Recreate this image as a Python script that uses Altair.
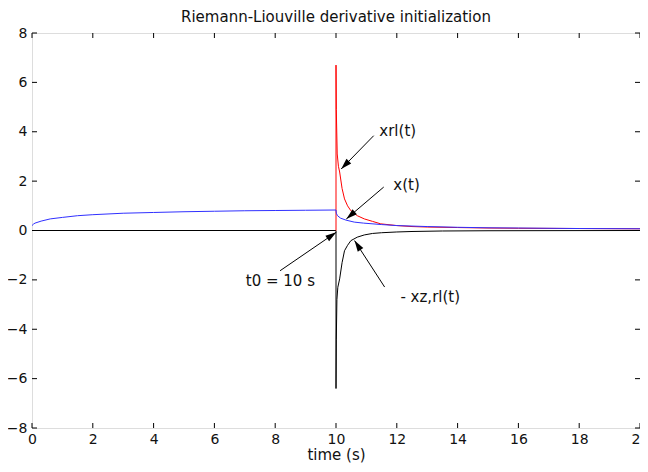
import math
import altair as alt
import pandas as pd

# ---------------- data ----------------
x_t = [0, 0.05, 0.1, 0.3, 0.6, 1, 1.5, 2, 3, 4, 5, 6, 7, 8, 9, 10,
       10.01, 10.05, 10.15, 10.33, 10.6, 10.9, 11.5, 12, 13, 14, 15, 16, 18, 20]
x_v = [0.2, 0.26, 0.3, 0.38, 0.47, 0.53, 0.6, 0.64, 0.7, 0.73, 0.76, 0.78, 0.8, 0.81, 0.82, 0.83,
       0.7, 0.6, 0.5, 0.42, 0.34, 0.3, 0.24, 0.2, 0.16, 0.13, 0.11, 0.1, 0.08, 0.07]

xrl_t = [10, 10, 10.01, 10.04, 10.08, 10.12, 10.2, 10.28, 10.38, 10.49, 10.7, 10.93,
         11.2, 11.47, 12, 12.5, 13, 14, 15, 16, 18, 20]
xrl_v = [0, 6.7, 4.9, 3.1, 2.6, 2.37, 1.7, 1.28, 1.0, 0.8, 0.6, 0.47,
         0.37, 0.27, 0.2, 0.16, 0.14, 0.12, 0.1, 0.09, 0.08, 0.07]

xz_t = [0, 10, 10, 10.01, 10.03, 10.06, 10.12, 10.2, 10.28, 10.38, 10.49, 10.7, 10.93,
        11.2, 11.5, 12, 12.5, 13.5, 15, 20]
xz_v = [0, 0, -6.4, -4.4, -2.8, -2.3, -1.96, -1.3, -0.82, -0.6, -0.41, -0.27, -0.18,
        -0.12, -0.09, -0.06, -0.04, -0.02, -0.01, 0]

x_ticks = [0, 2, 4, 6, 8, 10, 12, 14, 16, 18, 20]
y_ticks = [-8, -6, -4, -2, 0, 2, 4, 6, 8]

title_text = "Riemann-Liouville derivative initialization"
x_title = "time (s)"

ann_label = ["xrl(t)", "x(t)", "- xz,rl(t)", "t0 = 10 s"]
ann_tx = [12.03, 12.32, 13.1, 8.17]
ann_ty = [4.04, 1.85, -2.69, -2.03]
arr_x1 = [11.24, 11.57, 11.6, 8.16]
arr_y1 = [3.84, 1.76, -2.29, -1.63]
arr_x2 = [10.17, 10.34, 10.61, 10.01]
arr_y2 = [2.49, 0.47, -0.41, -0.07]

W, H = 608, 395
XD, YD = [0, 20], [-8, 8]
FONT = "DejaVu Sans"
INK = "#111111"

def series(ts, vs):
    return pd.DataFrame({"t": ts, "v": vs, "i": list(range(len(ts)))})

xs = alt.Scale(domain=XD, nice=False, zero=False)
ys = alt.Scale(domain=YD, nice=False, zero=False)

def line(df, color):
    return alt.Chart(df).mark_line(color=color, strokeWidth=1, clip=True).encode(
        x=alt.X("t:Q", scale=xs),
        y=alt.Y("v:Q", scale=ys),
        order="i:Q",
    )

base_x = alt.X("t:Q", scale=xs,
               axis=alt.Axis(values=x_ticks, title=x_title, grid=False, ticks=False,
                             domain=False, labelPadding=4, titlePadding=1,
                             labelFont=FONT, labelFontSize=14, labelColor=INK,
                             titleFont=FONT, titleFontSize=15, titleFontWeight="normal",
                             titleColor=INK, labelFlush=False))
base_y = alt.Y("v:Q", scale=ys,
               axis=alt.Axis(values=y_ticks, title=None, grid=False, ticks=False,
                             domain=False, labelPadding=5,
                             labelFont=FONT, labelFontSize=14, labelColor=INK,
                             labelFlush=False))

black = alt.Chart(series(xz_t, xz_v)).mark_line(color="black", strokeWidth=1).encode(
    x=base_x, y=base_y, order="i:Q")
red = line(series(xrl_t, xrl_v), "#ff0000")
blue = line(series(x_t, x_v), "#3030ff")

# inside tick marks on all four sides
TL = 5
xt = pd.DataFrame({"t": x_ticks})
yt = pd.DataFrame({"v": y_ticks})
tick_b = alt.Chart(xt).mark_rule(color="black", strokeWidth=1).encode(
    x=alt.X("t:Q", scale=xs), y=alt.value(H - TL), y2=alt.value(H))
tick_t = alt.Chart(xt).mark_rule(color="black", strokeWidth=1).encode(
    x=alt.X("t:Q", scale=xs), y=alt.value(0), y2=alt.value(TL))
tick_l = alt.Chart(yt).mark_rule(color="black", strokeWidth=1).encode(
    y=alt.Y("v:Q", scale=ys), x=alt.value(0), x2=alt.value(TL))
tick_r = alt.Chart(yt).mark_rule(color="black", strokeWidth=1).encode(
    y=alt.Y("v:Q", scale=ys), x=alt.value(W - TL), x2=alt.value(W))

# annotations
sx = W / (XD[1] - XD[0])
sy = H / (YD[1] - YD[0])
angles = []
for a, b, c, d in zip(arr_x1, arr_y1, arr_x2, arr_y2):
    dx = (c - a) * sx
    dy = -(d - b) * sy
    angles.append(math.degrees(math.atan2(dx, -dy)) % 360)

ann = pd.DataFrame({"label": ann_label, "tx": ann_tx, "ty": ann_ty,
                    "x1": arr_x1, "y1": arr_y1, "x2": arr_x2, "y2": arr_y2, "ang": angles})

shafts = alt.Chart(ann).mark_rule(color="black", strokeWidth=1).encode(
    x=alt.X("x1:Q", scale=xs), y=alt.Y("y1:Q", scale=ys),
    x2="x2:Q", y2="y2:Q")
heads = alt.Chart(ann).mark_point(shape="M0,0L-0.6,2L0.6,2Z", filled=True, color="black",
                                  opacity=1, size=121).encode(
    x=alt.X("x2:Q", scale=xs), y=alt.Y("y2:Q", scale=ys),
    angle=alt.Angle("ang:Q", scale=None))
texts = alt.Chart(ann).mark_text(font=FONT, fontSize=15, color=INK, align="center",
                                 baseline="middle").encode(
    x=alt.X("tx:Q", scale=xs), y=alt.Y("ty:Q", scale=ys), text="label:N")

title_mark = alt.Chart(pd.DataFrame({"s": [title_text]})).mark_text(
    font=FONT, fontSize=15, color=INK, align="center", baseline="middle").encode(
    x=alt.value(W / 2), y=alt.value(-16), text="s:N")

chart = alt.layer(black, red, blue, tick_b, tick_t, tick_l, tick_r, shafts, heads, texts,
                  title_mark).properties(
    width=W, height=H,
    autosize=alt.AutoSizeParams(type="none"),
    padding={"left": 24, "top": 25, "right": 0, "bottom": 36},
).configure_view(stroke="black", strokeWidth=1).configure(background="white")

chart.save("out.html", embed_options={"renderer": "svg", "actions": False})
